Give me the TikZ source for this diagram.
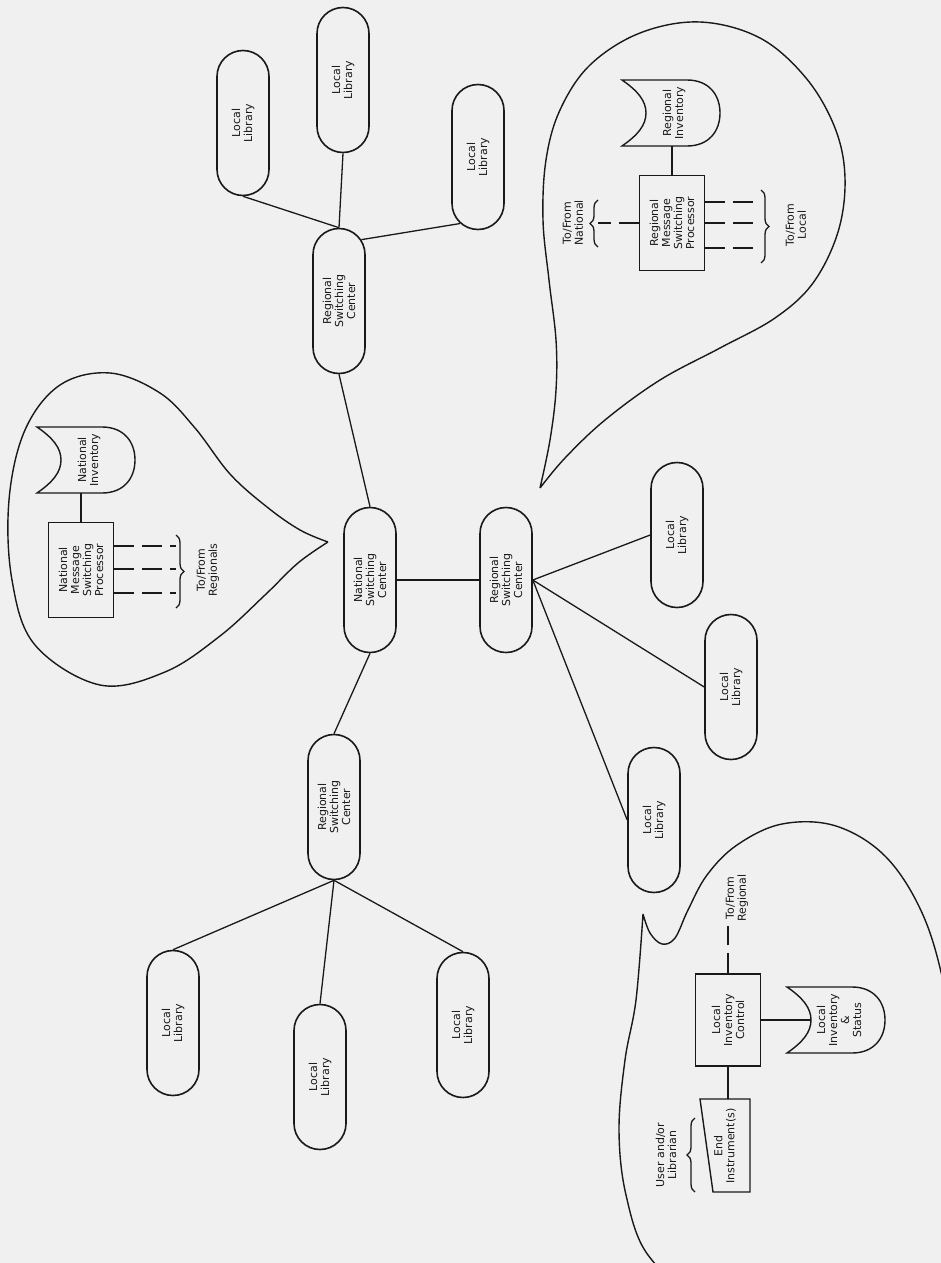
\documentclass[tikz,border=0pt]{standalone}
\usepackage{fontspec}
\setmainfont{DejaVu Sans}
\usetikzlibrary{shapes.misc, decorations.pathreplacing}

\begin{document}
\begin{tikzpicture}[
        x=1pt, y=-1pt, color=black!90,
        every node/.style={font=\fontsize{11}{12}\selectfont, align=center, inner sep=1pt},
        pill/.style={rounded rectangle, draw, line width=1.6pt, rotate=90, minimum width=147pt, minimum height=52pt},
        proc/.style={rectangle, draw, line width=1.4pt, rotate=90, minimum width=95pt, minimum height=65pt},
        tofrom/.style={rotate=90},
        line/.style={draw, line width=1.3pt},
        tie/.style={draw, line width=1.3pt, dash pattern=on 20pt off 8pt},
        curly/.style={draw, line width=1.3pt, decorate, decoration={brace, amplitude=8pt}},
        bubble/.style={draw, line width=1.4pt},
        storage/.pic={
            \draw[line width=1.4pt] (-49,-33) -- (16,-33) .. controls (38,-33) and (49,-18) .. (49,0)
                .. controls (49,18) and (38,33) .. (16,33) -- (-49,33)
                .. controls (-33,22) and (-25,12) .. (-25,0) .. controls (-25,-12) and (-33,-22) .. (-49,-33) -- cycle;
            \node[rotate=90] (-t) at (3,0) {#1};
            \coordinate (-s) at (0,33);
            \coordinate (-w) at (-25,0);
        }
    ]
    \fill[black!6] (0,0) rectangle (941,1263);
    \useasboundingbox (0,0) rectangle (941,1263);

    % Switching centers
    \node [pill] (nsc) at (370,580) {National\\Switching\\Center};
    \node [pill] (rscT) at (339,301) {Regional\\Switching\\Center};
    \node [pill] (rscB) at (506,580) {Regional\\Switching\\Center};
    \node [pill] (rscL) at (334,807) {Regional\\Switching\\Center};

    % Local libraries
    \node [pill] (lib1) at (243,123) {Local\\Library};
    \node [pill] (lib2) at (343,80) {Local\\Library};
    \node [pill] (lib3) at (478,157) {Local\\Library};
    \node [pill] (lib4) at (173,1023) {Local\\Library};
    \node [pill] (lib5) at (320,1077) {Local\\Library};
    \node [pill] (lib6) at (463,1025) {Local\\Library};
    \node [pill] (lib7) at (677,535) {Local\\Library};
    \node [pill] (lib8) at (731,687) {Local\\Library};
    \node [pill] (lib9) at (654,820) {Local\\Library};

    % Network links
    \path [line] (nsc.east) -- (rscT.west);
    \path [line] (nsc.south) -- (rscB.north);
    \path [line] (nsc.west) -- (rscL.east);
    \path [line] (rscT.east) -- (lib1.west);
    \path [line] (rscT.east) -- (lib2.west);
    \path [line] (rscT.-20) -- (lib3.165);
    \path [line] (rscL.west) -- (lib4.east);
    \path [line] (rscL.west) -- (lib5.east);
    \path [line] (rscL.west) -- (lib6.east);
    \path [line] (rscB.south) -- (lib7.north);
    \path [line] (rscB.south) -- (lib8.north);
    \path [line] (rscB.south) -- (lib9.north);

    % National close-up
    \draw [bubble] plot[smooth, tension=0.6] coordinates {(328,542) (300,530) (267,507) (230,474) (195,428) (160,393) (110,373) (60,385) (25,430) (9,500) (12,580) (35,645) (100,685) (165,672) (220,636) (265,595) (298,563) (328,542)};
    \pic (ninv) at (86,460) {storage={National\\Inventory}};
    \node [proc] (nproc) at (81,570) {National\\Message\\Switching\\Processor};
    \path [line] (nproc.east) -- (nproc.east |- ninv-s);
    \coordinate (nbr1) at (176,535);
    \coordinate (nbr2) at (176,608);
    \foreach \y in {546,569,593}
        \path [tie] (nproc.south |- 0,\y) -- (nbr1 |- 0,\y);
    \path [curly] (nbr1) -- (nbr2);
    \node [tofrom] (nlbl) at (208,570) {To/From\\Regionals};

    % Regional close-up
    \draw [bubble] plot[smooth, tension=0.6] coordinates {(540,488) (550,440) (556,390) (556,340) (549,280) (543,220) (546,160) (560,110) (590,65) (640,33) (700,22) (760,38) (806,78) (835,128) (845,178) (838,232) (813,283) (775,318) (720,348) (660,380) (605,420) (565,458) (540,488)};
    \pic (rinv) at (671,113) {storage={Regional\\Inventory}};
    \node [proc] (rproc) at (672,223) {Regional\\Message\\Switching\\Processor};
    \path [line] (rproc.east) -- (rproc.east |- rinv-s);
    \coordinate (rbl1) at (598,247);
    \coordinate (rbl2) at (598,200);
    \path [tie] (rproc.north) -- (rbl1 |- rproc.north);
    \path [curly] (rbl1) -- (rbl2);
    \node [tofrom] (rlblN) at (573,223) {To/From\\National};
    \coordinate (rbr1) at (761,190);
    \coordinate (rbr2) at (761,263);
    \foreach \y in {202,223,248}
        \path [tie] (rproc.south |- 0,\y) -- (rbr1 |- 0,\y);
    \path [curly] (rbr1) -- (rbr2);
    \node [tofrom] (rlblL) at (796,225) {To/From\\Local};

    % Local close-up
    \begin{scope}
        \clip (0,0) rectangle (941,1263);
        \draw [bubble] plot[smooth, tension=0.6] coordinates {(643,914) (650,933) (662,944) (675,938) (688,910) (707,875) (737,845) (782,824) (836,826) (886,857) (923,915) (945,990) (958,1080) (962,1180) (950,1270) (900,1310) (800,1320) (700,1295) (648,1255) (626,1195) (619,1130) (625,1060) (636,1000) (643,914)};
    \end{scope}
    \node [proc, minimum width=92pt] (lic) at (728,1020) {Local\\Inventory\\Control};
    \pic (linv) at (836,1020) {storage={Local\\Inventory\\\&\\Status}};
    \path [line] (lic.south) -- (linv-w);
    \node [tofrom] (ltag) at (737,898) {To/From\\Regional};
    \path [tie, shorten >=3pt] (lic.east) -- (lic.east |- ltag.west);
    \node [tofrom, minimum width=93pt, minimum height=50pt] (endi) at (725,1146) {End\\Instrument(s)};
    \draw [line width=1.4pt] (700,1099) -- (750,1099) -- (750,1192) -- (713,1192) -- cycle;
    \path [line] (lic.west) -- (lic.west |- endi.east);
    \coordinate (ubr1) at (695,1192);
    \coordinate (ubr2) at (695,1118);
    \path [curly] (ubr1) -- (ubr2);
    \node [tofrom] (ulbl) at (666,1155) {User and/or\\Librarian};

\end{tikzpicture}
\end{document}
